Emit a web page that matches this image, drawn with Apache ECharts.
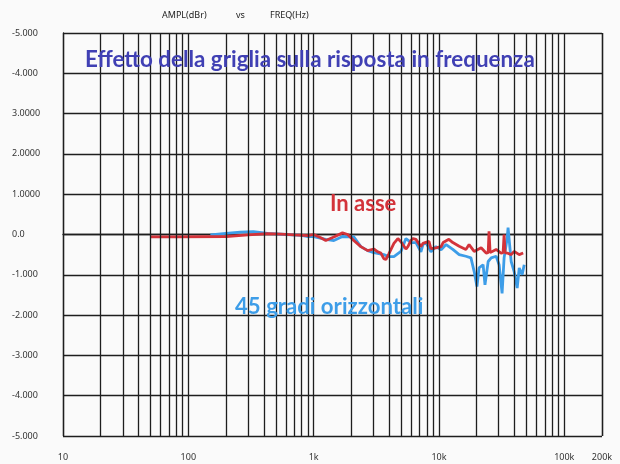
<!DOCTYPE html>
<html>
<head>
<meta charset="utf-8">
<script src="https://cdn.jsdelivr.net/npm/echarts@6/dist/echarts.min.js"></script>
<style>html,body{margin:0;padding:0;background:#fafafa}#c{width:620px;height:464px}</style>
</head>
<body>
<div id="c"></div>
<script>
// ---- data ----
const yTickValues = [-5, -4, -3, -2, -1, 0, 1, 2, 3, 4, 5];
const yTickLabels = ['-5.000', '-4.000', '-3.000', '-2.000', '-1.000', '0.0', '1.0000', '2.0000', '3.0000', '-4.000', '-5.000'];
const xTickValues = [10, 100, 1000, 10000, 100000, 200000];
const xTickLabels = ['10', '100', '1k', '10k', '100k', '200k'];

// In asse (red)
const redFreq = [50, 80, 200, 300, 430, 550, 700, 900, 1000, 1140, 1250, 1450, 1700, 1870, 2090, 2380, 2700, 3020, 3250, 3440, 3630, 3770, 3980, 4370, 4700, 4970, 5450, 5650, 5970, 6200, 6550, 7180, 7450, 8320, 8630, 9460, 10400, 10800, 12000, 12900, 14500, 16400, 17400, 19100, 21700, 23800, 24700, 25100, 25600, 26500, 28600, 31300, 32500, 33100, 33700, 35000, 37700, 39800, 43700, 47000];
const redVal  = [-0.06, -0.06, -0.05, -0.01, 0.02, 0.01, -0.01, -0.03, 0.0, -0.08, -0.15, -0.06, 0.04, 0.0, -0.15, -0.3, -0.4, -0.36, -0.43, -0.46, -0.6, -0.62, -0.48, -0.22, -0.1, -0.18, -0.36, -0.3, -0.15, -0.1, -0.12, -0.3, -0.22, -0.17, -0.35, -0.33, -0.3, -0.2, -0.12, -0.2, -0.29, -0.37, -0.25, -0.42, -0.33, -0.46, -0.45, 0.08, -0.45, -0.46, -0.37, -0.46, -0.45, 0.0, -0.45, -0.46, -0.5, -0.42, -0.5, -0.46];

// 45 gradi orizzontali (blue)
const blueFreq = [150, 200, 260, 330, 430, 600, 800, 900, 1000, 1250, 1450, 1700, 2090, 2380, 2700, 3020, 3630, 3980, 4370, 4970, 5450, 5650, 6000, 6550, 7180, 7450, 7870, 8630, 9460, 10400, 11400, 12900, 14500, 16400, 18000, 19100, 20100, 20900, 22500, 23300, 24700, 26100, 28600, 30200, 31900, 33100, 35000, 35600, 37700, 39800, 42100, 43700, 46100, 47900];
const blueVal  = [-0.01, 0.03, 0.06, 0.07, 0.03, 0.0, -0.02, -0.05, -0.05, -0.12, -0.15, -0.05, -0.06, -0.3, -0.4, -0.45, -0.5, -0.55, -0.55, -0.42, -0.1, -0.06, -0.2, -0.2, -0.43, -0.25, -0.2, -0.43, -0.3, -0.38, -0.25, -0.37, -0.5, -0.54, -0.58, -0.92, -1.29, -0.83, -0.75, -1.25, -0.67, -0.58, -0.54, -0.75, -1.46, -0.58, -0.1, 0.17, -0.67, -0.92, -1.33, -0.83, -1.0, -0.75];

// vertical grid line frequencies (log decades 10..200k)
const gridFreqs = [];
for (let d = 10; d <= 100000; d *= 10) {
  for (let k = 1; k <= 9; k++) { if (d * k <= 200000) gridFreqs.push(d * k); }
}
gridFreqs.push(200000);

const zip = (a, b) => a.map((v, i) => [v, b[i]]);
const gridColor = '#1e1e1e';

const chart = echarts.init(document.getElementById('c'));
chart.setOption({
  backgroundColor: '#fafafa',
  animation: false,
  grid: { left: 63, top: 33, width: 539, height: 403, show: false },
  xAxis: {
    type: 'log', logBase: 10, min: 10, max: 200000,
    axisLine: { show: true, lineStyle: { color: gridColor, width: 1.3 } },
    axisTick: { show: false },
    splitLine: { show: false },
    axisLabel: {
      customValues: xTickValues,
      margin: 17, fontSize: 9, color: '#333', fontFamily: 'Noto Sans',
      formatter: v => { const i = xTickValues.findIndex(t => Math.abs(t - v) / t < 1e-6); return i >= 0 ? xTickLabels[i] : ''; }
    }
  },
  yAxis: {
    type: 'value', min: -5, max: 5, interval: 1,
    axisLine: { show: true, lineStyle: { color: gridColor, width: 1.3 } },
    axisTick: { show: false },
    splitLine: { show: true, lineStyle: { color: gridColor, width: 1.3 } },
    axisLabel: {
      align: 'left', margin: 51, fontSize: 9, color: '#333', fontFamily: 'Noto Sans',
      formatter: v => { const i = yTickValues.indexOf(Math.round(v)); return i >= 0 ? yTickLabels[i] : ''; }
    }
  },
  series: [
    {
      type: 'line', name: 'grid', data: [], silent: true,
      markLine: {
        symbol: 'none', silent: true, label: { show: false },
        lineStyle: { color: gridColor, width: 1.3, type: 'solid' },
        data: gridFreqs.map(f => ({ xAxis: f }))
      }
    },
    {
      type: 'line', name: '45 gradi orizzontali', data: zip(blueFreq, blueVal),
      showSymbol: false, smooth: false, lineStyle: { color: '#3d9de8', width: 2.8 }, z: 3
    },
    {
      type: 'line', name: 'In asse', data: zip(redFreq, redVal),
      showSymbol: false, smooth: false, lineStyle: { color: '#d3333a', width: 2.8 }, z: 4
    }
  ],
  graphic: [
    { type: 'text', left: 162, top: 11, style: { text: 'AMPL(dBr)', fontSize: 9, fill: '#222', fontFamily: 'Noto Sans' } },
    { type: 'text', left: 236, top: 11, style: { text: 'vs', fontSize: 9, fill: '#222', fontFamily: 'Noto Sans' } },
    { type: 'text', left: 270, top: 11, style: { text: 'FREQ(Hz)', fontSize: 9, fill: '#222', fontFamily: 'Noto Sans' } },
    { type: 'text', left: 85, top: 49, z: 10, style: { text: 'Effetto della griglia sulla risposta in frequenza', fontSize: 22.4, fontWeight: 'bold', fill: '#4040b4', fontFamily: 'Lato' } },
    { type: 'text', left: 330, top: 193, z: 10, style: { text: 'In asse', fontSize: 22, fontWeight: 'bold', fill: '#d3333a', fontFamily: 'Lato' } },
    { type: 'text', left: 235, top: 296, z: 10, style: { text: '45 gradi orizzontali', fontSize: 22.2, fontWeight: 'bold', fill: '#3d9de8', fontFamily: 'Lato' } }
  ]
});
</script>
</body>
</html>
